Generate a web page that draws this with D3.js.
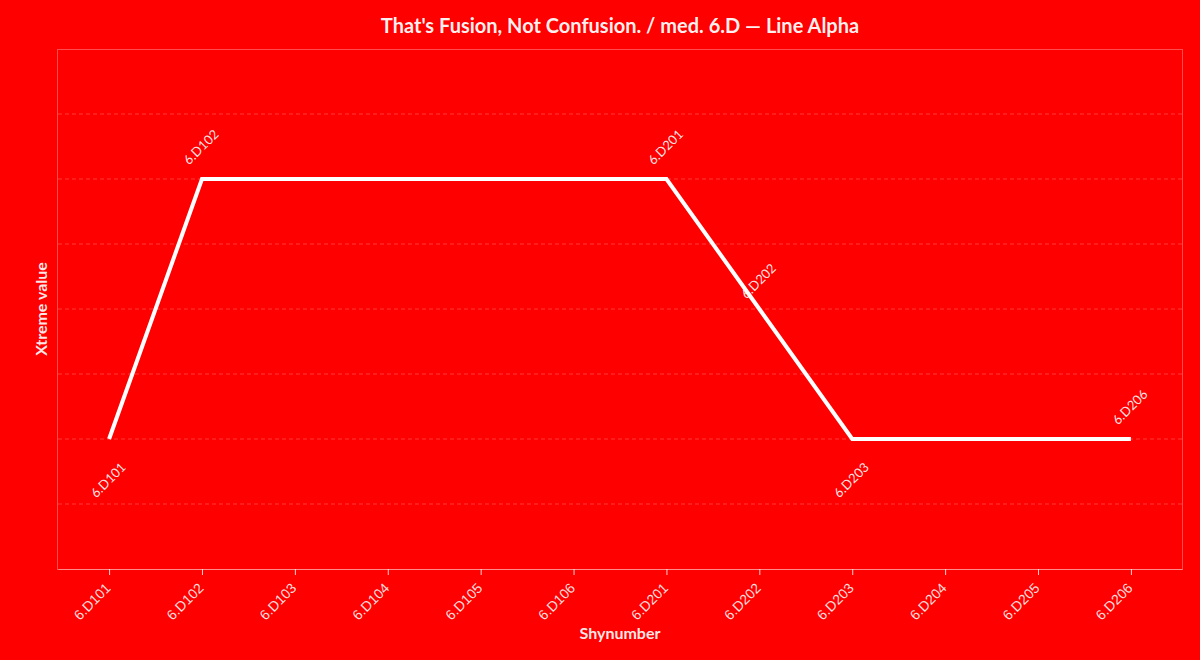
<!DOCTYPE html>
<html><head><meta charset="utf-8">
<script src="https://cdn.jsdelivr.net/npm/d3@7/dist/d3.min.js"></script>
<style>
html,body{margin:0;padding:0;background:#ff0000;}
svg{display:block;font-family:"Source Sans Pro","Lato","Open Sans",sans-serif;}
</style></head>
<body>
<svg id="chart" width="1200" height="660"></svg>
<script>
const categories = ["6.D101","6.D102","6.D103","6.D104","6.D105","6.D106","6.D201","6.D202","6.D203","6.D204","6.D205","6.D206"];
const pointNames = ["6.D101","6.D102","6.D201","6.D202","6.D203","6.D206"];
const pointValues = [2, 6, 6, 4, 2, 2];
const labelSide = ["below","above","above","above","below","above"];
const yTicks = [1,2,3,4,5,6,7];
const titleText = "That's Fusion, Not Confusion. / med. 6.D \u2014 Line Alpha";

const W = 1200, H = 660;
const m = {left:58, right:18, top:49, bottom:91};
const iw = W - m.left - m.right, ih = H - m.top - m.bottom;
const svg = d3.select("#chart");
svg.append("rect").attr("width",W).attr("height",H).attr("fill","#ff0000");

const x = d3.scalePoint().domain(categories).range([0, iw]).padding(0.55);
const y = d3.scaleLinear().domain([0,8]).range([ih,0]);

const g = svg.append("g").attr("transform",`translate(${m.left},${m.top})`);

// grid
g.append("g").selectAll("line").data(yTicks).join("line")
  .attr("x1",0).attr("x2",iw)
  .attr("y1",d=>y(d)).attr("y2",d=>y(d))
  .attr("stroke","rgba(255,255,255,0.22)").attr("stroke-width",1)
  .attr("stroke-dasharray","4,3");

// frame
g.append("rect").attr("x",-0.5).attr("y",0.5).attr("width",iw+1).attr("height",ih)
  .attr("fill","none").attr("stroke","rgba(255,255,255,0.3)").attr("stroke-width",1);

// x axis
const xa = g.append("g").attr("transform",`translate(0,${ih})`)
  .call(d3.axisBottom(x).tickSize(6).tickSizeOuter(0));
xa.select(".domain").attr("stroke","rgba(255,255,255,0.35)");
xa.selectAll(".tick line").attr("stroke","rgba(255,255,255,0.8)");
xa.selectAll(".tick text")
  .attr("fill","rgba(255,255,255,0.88)")
  .style("font-size","14px")
  .attr("text-anchor","end")
  .attr("dy","0")
  .attr("y",0)
  .attr("transform","translate(2,20) rotate(-45)");

// line
const pts = pointNames.map((n,i)=>({n, v:pointValues[i], side:labelSide[i]}));
g.append("path").datum(pts)
  .attr("d", d3.line().x(d=>x(d.n)).y(d=>y(d.v)))
  .attr("fill","none").attr("stroke","#ffffff").attr("stroke-width",4)
  .attr("stroke-linejoin","miter");

// point labels
g.append("g").selectAll("text").data(pts).join("text")
  .attr("transform",d=>{
    const off = d.side==="above" ? (d.n==="6.D202" ? -27 : -31) : 42;
    return `translate(${x(d.n)},${y(d.v)+off}) rotate(-45)`;
  })
  .attr("text-anchor","middle").attr("dominant-baseline","middle")
  .attr("fill","rgba(255,255,255,0.9)").style("font-size","13px")
  .text(d=>d.n);

// titles
svg.append("text").attr("x",620).attr("y",33).attr("text-anchor","middle")
  .attr("fill","rgba(255,255,255,0.95)").style("font-size","20px").style("font-weight","bold")
  .text(titleText);
svg.append("text").attr("x",m.left+iw/2).attr("y",639).attr("text-anchor","middle")
  .attr("fill","rgba(255,255,255,0.92)").style("font-size","16px").style("font-weight","bold")
  .text("Shynumber");
svg.append("text").attr("transform",`translate(47,${m.top+ih/2}) rotate(-90)`).attr("text-anchor","middle")
  .attr("fill","rgba(255,255,255,0.92)").style("font-size","16px").style("font-weight","bold")
  .text("Xtreme value");
</script>
</body></html>
